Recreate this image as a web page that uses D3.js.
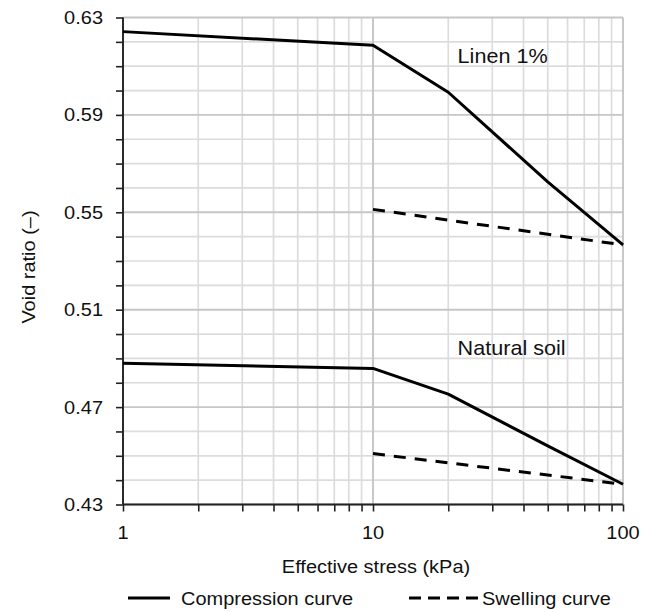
<!DOCTYPE html>
<html>
<head>
<meta charset="utf-8">
<script src="https://cdn.jsdelivr.net/npm/d3@7/dist/d3.min.js"></script>
<style>
  html, body { margin: 0; padding: 0; background: #fff; }
  svg { display: block; font-family: "Liberation Sans", Arial, sans-serif; }
</style>
</head>
<body>
<svg id="chart" width="653" height="612"></svg>
<script>
// ---- Data ----
const stress = [1, 10, 20, 50, 100];
const linenCompression = [0.6242, 0.6186, 0.5993, 0.5625, 0.5366];
const naturalCompression = [0.4880, 0.4859, 0.4753, 0.4541, 0.4383];
const swellStress = [10, 100];
const linenSwelling = [0.5512, 0.5366];
const naturalSwelling = [0.4509, 0.4383];
const yTickValues = [0.43, 0.47, 0.51, 0.55, 0.59, 0.63];
const xTickValues = [1, 10, 100];
const curveLabels = ["Linen 1%", "Natural soil"];
const labelPos = [[21.8, 0.6113], [21.8, 0.4914]]; // [stress, void ratio] start points for curve labels
const legendItems = ["Compression curve", "Swelling curve"];

// ---- Layout ----
const svg = d3.select("#chart");
const m = { left: 123, right: 623, top: 17.5, bottom: 504.5 };
const x = d3.scaleLog().domain([1, 100]).range([m.left, m.right]);
const y = d3.scaleLinear().domain([0.43, 0.63]).range([m.bottom, m.top]);
const SX = 1.08; // horizontal glyph widening to match reference font
const FS = 18.5;

// minor values
const xMinor = [];
[1, 10].forEach(d => { for (let k = 2; k <= 9; k++) xMinor.push(d * k); });
const yMinor = d3.range(0, 21).map(i => +(0.43 + i * 0.01).toFixed(2));
const isMajorY = v => yTickValues.some(t => Math.abs(t - v) < 1e-9);

const grid = svg.append("g");
// minor grid
grid.selectAll(".ymin").data(yMinor.filter(v => !isMajorY(v))).join("line")
  .attr("x1", m.left).attr("x2", m.right)
  .attr("y1", d => y(d)).attr("y2", d => y(d))
  .attr("stroke", "#dcdcdc").attr("stroke-width", 1.7);
grid.selectAll(".xmin").data(xMinor).join("line")
  .attr("x1", d => x(d)).attr("x2", d => x(d))
  .attr("y1", m.top).attr("y2", m.bottom)
  .attr("stroke", "#dcdcdc").attr("stroke-width", 1.7);
// major grid
grid.selectAll(".ymaj").data(yTickValues).join("line")
  .attr("x1", m.left).attr("x2", m.right)
  .attr("y1", d => y(d)).attr("y2", d => y(d))
  .attr("stroke", "#c6c6c6").attr("stroke-width", 1.9);
grid.selectAll(".xmaj").data(xTickValues).join("line")
  .attr("x1", d => x(d)).attr("x2", d => x(d))
  .attr("y1", m.top).attr("y2", m.bottom)
  .attr("stroke", "#c6c6c6").attr("stroke-width", 1.9);

// axes (ticks)
const yAxis = d3.axisLeft(y).tickValues(yMinor).tickSize(7).tickFormat("");
const gy = svg.append("g").attr("transform", `translate(${m.left},0)`).call(yAxis);
gy.select(".domain").attr("stroke", "#222").attr("stroke-width", 1.9).attr("d", `M0,${m.top}V${m.bottom}`);
gy.selectAll(".tick line").attr("stroke", "#222").attr("stroke-width", 1.6);

const xAxis = d3.axisBottom(x).tickValues(xTickValues.concat(xMinor)).tickSize(7).tickFormat("");
const gx = svg.append("g").attr("transform", `translate(0,${m.bottom})`).call(xAxis);
gx.select(".domain").attr("stroke", "#222").attr("stroke-width", 1.9).attr("d", `M${m.left},0H${m.right}`);
gx.selectAll(".tick line").attr("stroke", "#222").attr("stroke-width", 1.6);

function txt(g, s, tx, ty, anchor, rot, fs) {
  return g.append("text")
    .attr("transform", `translate(${tx},${ty})` + (rot ? ` rotate(${rot})` : "") + ` scale(${SX},1)`)
    .attr("text-anchor", anchor)
    .attr("font-size", fs || FS)
    .attr("fill", "#111")
    .text(s);
}

// tick labels
const labels = svg.append("g");
yTickValues.forEach(v => txt(labels, d3.format(".2f")(v), 103, y(v) + 6.5, "end"));
xTickValues.forEach(v => txt(labels, String(v), x(v), 539, "middle"));

// axis titles
txt(labels, "Effective stress (kPa)", (m.left + m.right) / 2 + 3, 573, "middle");
txt(labels, "Void ratio (\u2013)", 35, 267, "middle", -90);

// curves
const line = d3.line().x(d => x(d[0])).y(d => y(d[1]));
const curves = svg.append("g").attr("fill", "none").attr("stroke", "#000").attr("stroke-width", 3).attr("stroke-linejoin", "round");
curves.append("path").attr("d", line(stress.map((s, i) => [s, linenCompression[i]])));
curves.append("path").attr("d", line(stress.map((s, i) => [s, naturalCompression[i]])));
curves.append("path").attr("stroke-dasharray", "12,9").attr("d", line(swellStress.map((s, i) => [s, linenSwelling[i]])));
curves.append("path").attr("stroke-dasharray", "12,9").attr("d", line(swellStress.map((s, i) => [s, naturalSwelling[i]])));

// curve labels
curveLabels.forEach((t, i) => txt(labels, t, x(labelPos[i][0]), y(labelPos[i][1]), "start", null, 20));

// legend
const lg = svg.append("g");
lg.append("line").attr("x1", 128).attr("x2", 170).attr("y1", 598).attr("y2", 598)
  .attr("stroke", "#000").attr("stroke-width", 3);
txt(lg, legendItems[0], 181, 605, "start");
lg.append("line").attr("x1", 409).attr("x2", 478).attr("y1", 598).attr("y2", 598)
  .attr("stroke", "#000").attr("stroke-width", 3).attr("stroke-dasharray", "12,7");
txt(lg, legendItems[1], 482, 605, "start");
</script>
</body>
</html>
